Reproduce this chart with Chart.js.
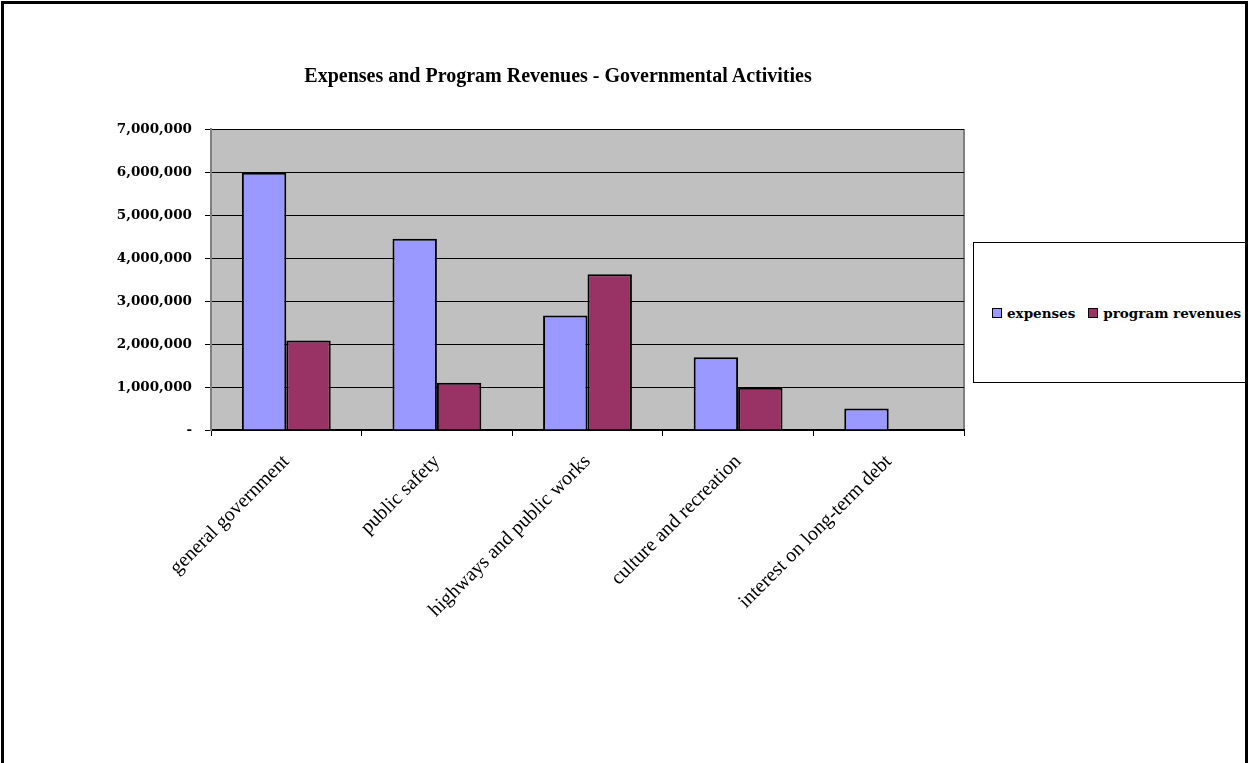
<!DOCTYPE html>
<html>
<head>
<meta charset="utf-8">
<script src="https://cdn.jsdelivr.net/npm/chart.js@4"></script>
<style>
  body { margin: 0; background: #fff; }
  #wrap { position: relative; width: 1249px; height: 763px; }
  #title {
    position: absolute; left: 258px; width: 600px; top: 63px; text-align: center;
    font: bold 20px 'Liberation Serif', serif; color: #000; line-height: 24px;
  }
  #legendBox {
    position: absolute; left: 973px; top: 242px; width: 273px; height: 141px;
    border: 1px solid #000; background: #fff; box-sizing: border-box;
    display: flex; align-items: center; justify-content: flex-start;
    padding-left: 18px;
    font: bold 13.5px 'DejaVu Serif', serif; color: #000;
  }
  .item { display: flex; align-items: center; margin-right: 13px; white-space: nowrap; }
  .sw { width: 8px; height: 8px; border: 1px solid #000; margin-right: 5px; }
</style>
</head>
<body>
<div id="wrap">
  <canvas id="chart" width="1249" height="763"></canvas>
  <div id="title">Expenses and Program Revenues - Governmental Activities</div>
  <div id="legendBox"></div>
</div>
<script>
// chart data
var categories = ['general government', 'public safety', 'highways and public works', 'culture and recreation', 'interest on long-term debt'];
var expenses = [5980000, 4450000, 2660000, 1690000, 500000];
var programRevenues = [2080000, 1100000, 3620000, 980000, 0];
var seriesNames = ['expenses', 'program revenues'];
var seriesColors = ['#9999FF', '#993366'];

// build the html legend
var legendBox = document.getElementById('legendBox');
seriesNames.forEach(function(name, i) {
    var item = document.createElement('div');
    item.className = 'item';
    var sw = document.createElement('span');
    sw.className = 'sw';
    sw.style.background = seriesColors[i];
    item.appendChild(sw);
    item.appendChild(document.createTextNode(name));
    legendBox.appendChild(item);
});

// grey plot area, plot frame and outer border
var plotArea = {
    id: 'plotArea',
    beforeDraw: function(chart) {
        var c = chart.ctx, a = chart.chartArea;
        c.save();
        c.fillStyle = '#C0C0C0';
        c.fillRect(a.left, a.top, a.right - a.left, a.bottom - a.top);
        c.strokeStyle = '#808080';
        c.lineWidth = 2;
        c.beginPath();
        c.moveTo(a.right, a.top);
        c.lineTo(a.right, a.bottom);
        c.stroke();
        // outer frame
        c.strokeStyle = '#000';
        c.lineWidth = 3;
        c.beginPath();
        c.moveTo(2.5, 770);
        c.lineTo(2.5, 2.5);
        c.lineTo(1246.5, 2.5);
        c.lineTo(1246.5, 770);
        c.stroke();
        c.restore();
    }
};

var ctx = document.getElementById('chart').getContext('2d');
var chart = new Chart(ctx, {
    type: 'bar',
    data: {
        labels: categories,
        datasets: [
            {
                label: seriesNames[0],
                data: expenses,
                backgroundColor: seriesColors[0],
                borderColor: '#000',
                borderWidth: 2
            },
            {
                label: seriesNames[1],
                data: programRevenues,
                backgroundColor: seriesColors[1],
                borderColor: '#000',
                borderWidth: 2
            }
        ]
    },
    options: {
        responsive: false,
        animation: false,
        categoryPercentage: 0.59,
        barPercentage: 1.0,
        layout: { padding: { left: 0, right: 285, top: 129, bottom: 0 } },
        plugins: {
            legend: { display: false },
            tooltip: { enabled: false },
            title: { display: false }
        },
        scales: {
            x: {
                grid: {
                    offset: true,
                    drawOnChartArea: false,
                    drawTicks: true,
                    tickLength: 6,
                    color: '#000'
                },
                border: { color: '#000', width: 2 },
                ticks: {
                    color: '#000',
                    autoSkip: false,
                    minRotation: 45,
                    maxRotation: 45,
                    padding: 14,
                    font: { family: "'Liberation Serif', serif", size: 20 }
                },
                afterFit: function(scale) { scale.height = 333; }
            },
            y: {
                min: 0,
                max: 7000000,
                grid: {
                    color: '#000',
                    tickLength: 6,
                    drawTicks: true
                },
                border: { color: '#808080', width: 2 },
                ticks: {
                    stepSize: 1000000,
                    color: '#000',
                    padding: 13,
                    font: { family: "'DejaVu Serif', serif", size: 13.5, weight: 'bold' },
                    callback: function(v) { return v === 0 ? '-' : v.toLocaleString('en-US'); }
                },
                afterFit: function(scale) { scale.width = 211; }
            }
        }
    },
    plugins: [plotArea]
});
</script>
</body>
</html>
